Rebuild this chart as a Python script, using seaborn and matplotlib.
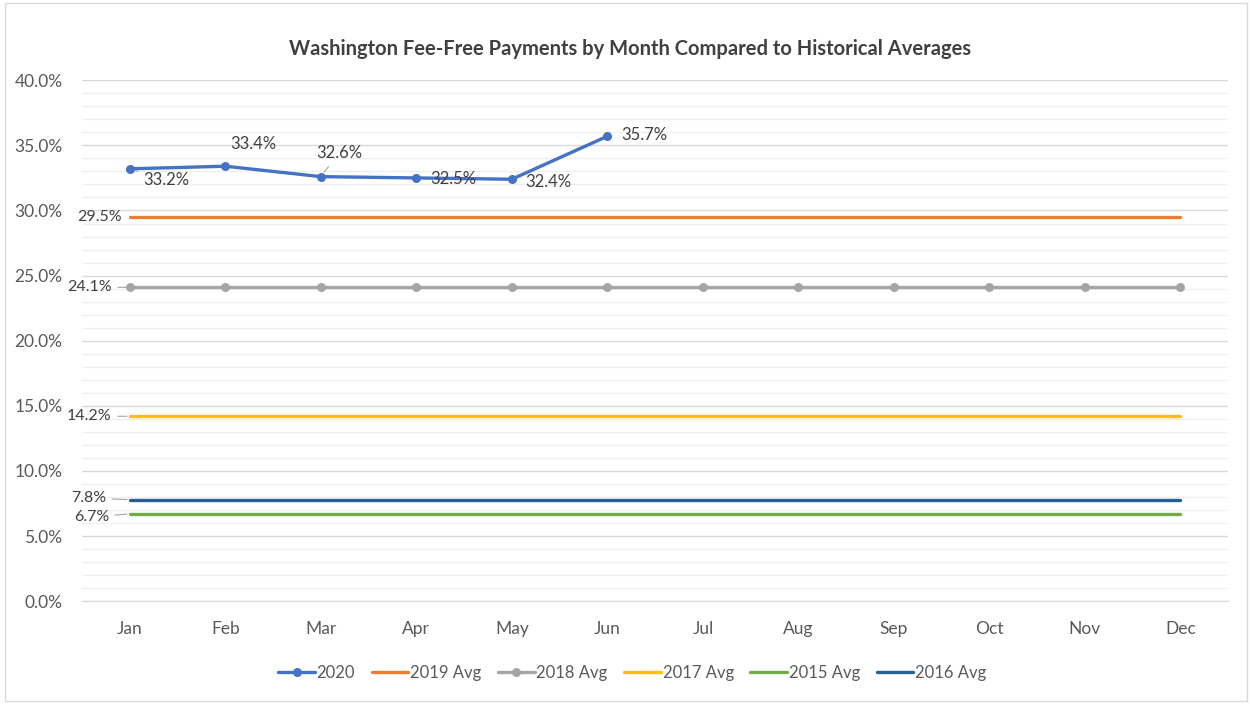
import numpy as np
import pandas as pd
import matplotlib.pyplot as plt
import seaborn as sns
from matplotlib.patches import Rectangle
from matplotlib.ticker import MultipleLocator, PercentFormatter

# data
months = ["Jan", "Feb", "Mar", "Apr", "May", "Jun", "Jul", "Aug", "Sep", "Oct", "Nov", "Dec"]
pay_2020 = [33.2, 33.4, 32.6, 32.5, 32.4, 35.7]
avg_2019 = 29.5
avg_2018 = 24.1
avg_2017 = 14.2
avg_2015 = 6.7
avg_2016 = 7.8

series_names = ["2020", "2019 Avg", "2018 Avg", "2017 Avg", "2015 Avg", "2016 Avg"]
series_colors = ["#4472C4", "#ED7D31", "#A5A5A5", "#FFC000", "#70AD47", "#255E91"]
series_markers = ["o", None, "o", None, None, None]

sns.set_style("white")
plt.rcParams['font.family'] = ['Lato', 'DejaVu Sans']
txt = "#595959"

fig = plt.figure(figsize=(12.52, 7.04), dpi=100)
ax = fig.add_axes([0.0655, 0.146, 0.9155, 0.74])

x = np.arange(len(months))
values = [pay_2020,
          [avg_2019] * len(months),
          [avg_2018] * len(months),
          [avg_2017] * len(months),
          [avg_2015] * len(months),
          [avg_2016] * len(months)]

for name, vals, col, mk in zip(series_names, values, series_colors, series_markers):
    df = pd.DataFrame({"month": x[:len(vals)], "pct": vals})
    sns.lineplot(data=df, x="month", y="pct", ax=ax, color=col, lw=2.4,
                 marker=mk, markersize=6.5, markeredgewidth=0, label=name, zorder=3)

ax.set_xlim(-0.5, len(months) - 0.5)
ax.set_ylim(0, 40)
ax.yaxis.set_major_locator(MultipleLocator(5))
ax.yaxis.set_minor_locator(MultipleLocator(1))
ax.yaxis.set_major_formatter(PercentFormatter(decimals=1))
ax.grid(which="major", axis="y", color="#D9D9D9", lw=1, zorder=0)
ax.grid(which="minor", axis="y", color="#EEEEEE", lw=0.9, zorder=0)
ax.set_axisbelow(True)
ax.set_xticks(x)
ax.set_xticklabels(months)
ax.set_xticks(np.arange(-0.5, len(months)), minor=True)
ax.tick_params(axis="x", which="major", length=0, pad=14, labelsize=12.5, colors=txt)
ax.tick_params(axis="x", which="minor", length=6, color="#D9D9D9")
ax.tick_params(axis="y", which="both", length=0, pad=14, labelsize=12.5, colors=txt)
for s in ["top", "right", "left"]:
    ax.spines[s].set_visible(False)
ax.spines["bottom"].set_color("#D9D9D9")
ax.set_xlabel("")
ax.set_ylabel("")

# data labels for 2020 (offsets in points)
offs_2020 = [(10, -8, "left"), (20, 16, "center"), (13, 17, "center"),
             (10, -1, "left"), (10, -2, "left"), (10, 1, "left")]
for i, v in enumerate(pay_2020):
    dx, dy, ha = offs_2020[i]
    ax.annotate(f"{v:.1f}%", (x[i], v), xytext=(dx, dy), textcoords="offset points",
                ha=ha, va="center", fontsize=12, color="#404040", zorder=4,
                arrowprops=dict(arrowstyle="-", color="#A5A5A5", lw=0.8,
                                shrinkA=2, shrinkB=4) if i in (0, 2) else None)

# labels for the averages, left of Jan
avg_labels = [(avg_2019, -6, 0, False), (avg_2018, -13, 0, True), (avg_2017, -13, 0, True),
              (avg_2016, -17, 1, True), (avg_2015, -15, -2, True)]
for v, dx, dy, lead in avg_labels:
    ax.annotate(f"{v:.1f}%", (x[0], v), xytext=(dx, dy), textcoords="offset points",
                ha="right", va="center", fontsize=11.5, color="#404040", zorder=4,
                arrowprops=dict(arrowstyle="-", color="#A5A5A5", lw=0.8,
                                shrinkA=2, shrinkB=2) if lead else None)

ax.legend_.remove()
handles, labels = ax.get_legend_handles_labels()
fig.legend(handles, labels, loc="center", bbox_to_anchor=(0.505, 0.044), ncol=6,
           frameon=False, fontsize=12, handlelength=2.2, columnspacing=1.0,
           handletextpad=0.1, labelcolor=txt)

fig.suptitle("Washington Fee-Free Payments by Month Compared to Historical Averages",
             x=0.503, y=0.944, fontsize=14.5, fontweight="bold", color="#404040")

fig.patches.append(Rectangle((0.004, 0.004), 0.992, 0.992, transform=fig.transFigure,
                             fill=False, edgecolor="#D9D9D9", lw=1))

fig.savefig("out.png", dpi=100)
